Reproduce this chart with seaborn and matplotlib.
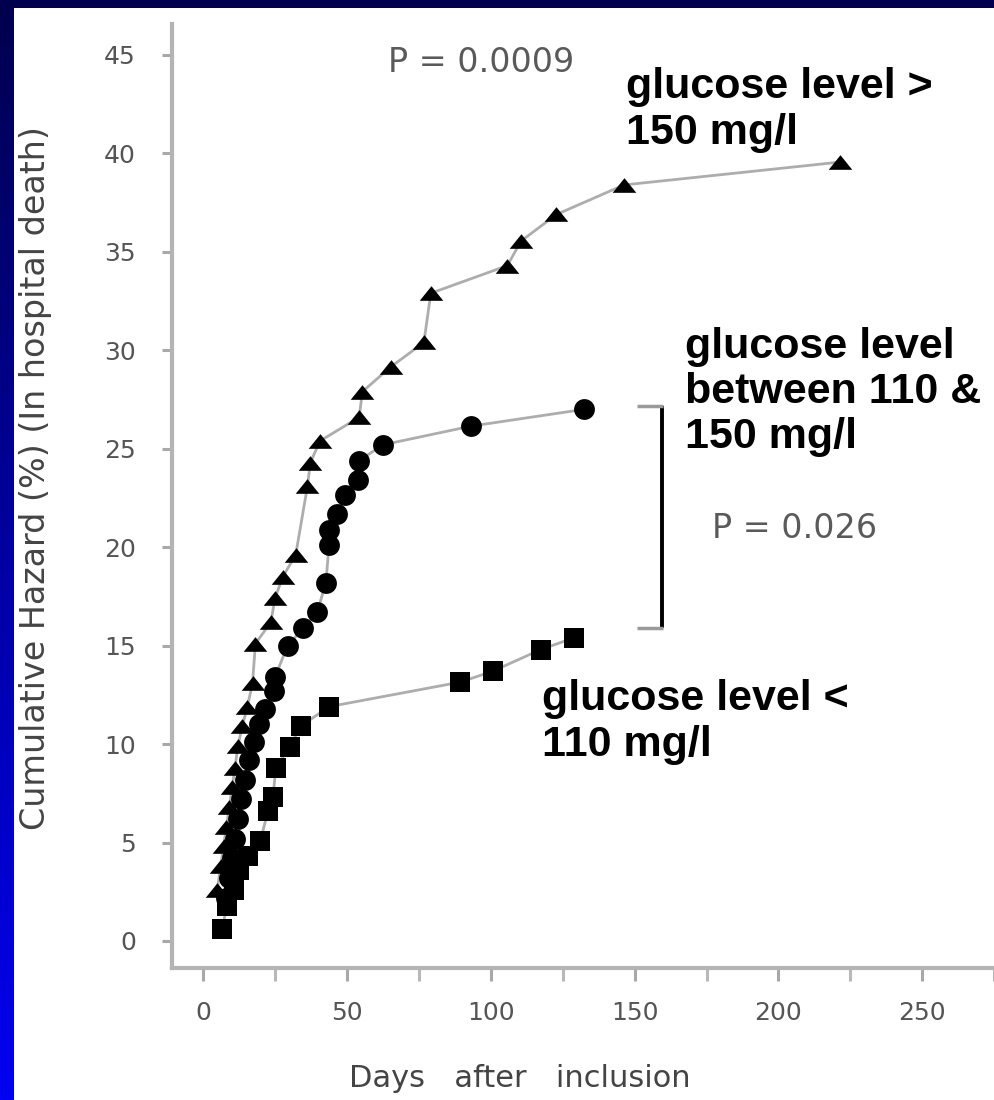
import numpy as np
import pandas as pd
import matplotlib
matplotlib.use("Agg")
import matplotlib.pyplot as plt
from matplotlib.lines import Line2D
import seaborn as sns

# ---------------- data ----------------
hi_days = [4.8, 6.0, 7.0, 8.0, 9.0, 10.0, 11.0, 12.0, 13.5, 15.3, 17.1, 18.1, 23.5, 24.9,
           27.6, 32.1, 36.2, 37.2, 40.6, 54.2, 55.3, 65.1, 76.7, 79.1, 105.7, 110.5,
           122.8, 146.3, 221.3]
hi_haz = [2.6, 3.8, 4.8, 5.8, 6.8, 7.8, 8.8, 9.9, 10.9, 11.9, 13.1, 15.1, 16.2, 17.4,
          18.5, 19.6, 23.1, 24.3, 25.4, 26.6, 27.9, 29.15, 30.4, 32.9, 34.3, 35.55,
          36.9, 38.4, 39.56]

mid_days = [8.0, 9.0, 10.0, 11.0, 12.0, 13.0, 14.5, 16.0, 17.5, 19.5, 21.5, 24.6, 24.9,
            29.3, 34.8, 39.6, 42.6, 43.7, 43.7, 46.4, 49.1, 53.9, 54.2, 62.4, 93.1, 132.3]
mid_haz = [2.2, 3.2, 4.2, 5.2, 6.2, 7.2, 8.2, 9.2, 10.1, 11.0, 11.8, 12.7, 13.4,
           15.0, 15.9, 16.7, 18.2, 20.1, 20.9, 21.7, 22.65, 23.4, 24.4, 25.2, 26.15, 27.0]

low_days = [6.5, 8.2, 10.6, 12.3, 15.5, 19.8, 22.5, 24.2, 25.2, 30.0, 33.8, 43.7,
            89.4, 100.6, 117.3, 128.9]
low_haz = [0.6, 1.8, 2.6, 3.6, 4.3, 5.1, 6.6, 7.3, 8.8, 9.85, 10.9, 11.9,
           13.15, 13.7, 14.8, 15.4]

y_ticks = [0, 5, 10, 15, 20, 25, 30, 35, 40, 45]
x_ticks = [0, 50, 100, 150, 200, 250]
x_minor = [25, 75, 125, 175, 225, 275]

x_label = "Days   after   inclusion"
y_label = "Cumulative Hazard (%) (In hospital death)"
p_top = "P = 0.0009"
p_mid = "P = 0.026"
lab_hi = "glucose level >\n150 mg/l"
lab_mid = "glucose level\nbetween 110 &\n150 mg/l"
lab_low = "glucose level <\n110 mg/l"

# ---------------- figure ----------------
sns.set_style("ticks")
plt.rcParams["font.family"] = ["DejaVu Sans"]

W, H = 995, 1100
fig = plt.figure(figsize=(W / 100, H / 100), dpi=100)
fig.patch.set_facecolor("white")

def fx(px):
    return px / W

def fy(py):
    return 1 - py / H

# blue slide frame (left gradient strip and top band)
grad = np.linspace(0, 1, 256).reshape(-1, 1)
cmap = matplotlib.colors.LinearSegmentedColormap.from_list("bl", ["#00004e", "#0000f2"])
axl = fig.add_axes([0, 0, fx(14), 1])
axl.imshow(grad, aspect="auto", cmap=cmap, extent=[0, 1, 1, 0])
axl.set_axis_off()
axt = fig.add_axes([0, fy(8), 1, 8 / H])
axt.set_facecolor("#00004e")
axt.set_xticks([]); axt.set_yticks([])
for s in axt.spines.values():
    s.set_visible(False)

L, R, T, B = 172, 994, 24, 968
ax = fig.add_axes([fx(L), fy(B), (R - L) / W, (B - T) / H])
ax.set_facecolor("white")

line_col = "#adadad"
tri = [(-1, -0.62), (1, -0.62), (0, 0.62)]
series = [
    (hi_days, hi_haz, tri, 17),
    (mid_days, mid_haz, "o", 15),
    (low_days, low_haz, "s", 14.5),
]
for xd, yd, mk, ms in series:
    df = pd.DataFrame({"days": xd, "haz": yd})
    sns.lineplot(data=df, x="days", y="haz", ax=ax, estimator=None, sort=False,
                 color=line_col, lw=2.0, marker=mk, markersize=ms,
                 markerfacecolor="black", markeredgecolor="black", markeredgewidth=0)

# axes scales: 0 -> px 941, 45 -> px 55 ; 0 -> px 204, 250 -> px 937
ppu_y = (941 - 55) / 45.0
ppu_x = (937 - 204) / 250.0
ax.set_ylim((941 - B) / ppu_y, (941 - T) / ppu_y)
ax.set_xlim((L - 204) / ppu_x, (R - 204) / ppu_x)

ax.set_yticks(y_ticks)
ax.set_xticks(x_ticks)
ax.set_xticks(x_minor, minor=True)
ax.set_yticklabels([str(v) for v in y_ticks])
ax.set_xticklabels([str(v) for v in x_ticks])

spine_col = "#b4b4b4"
for side in ["top", "right"]:
    ax.spines[side].set_visible(False)
for side in ["left", "bottom"]:
    ax.spines[side].set_color(spine_col)
    ax.spines[side].set_linewidth(3.0)

ax.tick_params(axis="y", which="major", direction="out", length=7, width=2.2,
               color="#a8a8a8", labelsize=18, labelcolor="#555555", pad=19)
ax.tick_params(axis="x", which="major", direction="out", length=9, width=2.2,
               color="#a8a8a8", labelsize=18, labelcolor="#555555", pad=15)
ax.tick_params(axis="x", which="minor", direction="out", length=9, width=2.2,
               color="#b8b8b8")

ax.set_xlabel(x_label, fontsize=22, color="#444444", ha="center", va="top")
ax.xaxis.set_label_coords((520 - L) / (R - L), (B - 1064) / (B - T))
ax.set_ylabel(y_label, fontsize=24, color="#444444", ha="center", va="center")
ax.yaxis.set_label_coords((36 - L) / (R - L), (B - 478) / (B - T))

# annotations
bold = dict(family=["Liberation Sans", "DejaVu Sans"], fontweight="bold",
            fontsize=31, color="black", linespacing=1.17)
fig.text(fx(626), fy(110), lab_hi, ha="left", va="center", **bold)
fig.text(fx(685), fy(392), lab_mid, ha="left", va="center", **bold)
fig.text(fx(542), fy(722), lab_low, ha="left", va="center", **bold)

ptxt = dict(fontsize=24, color="#5a5a5a", family=["DejaVu Sans"])
fig.text(fx(388), fy(62), p_top, ha="left", va="center", **ptxt)
fig.text(fx(712), fy(528), p_mid, ha="left", va="center", **ptxt)

# bracket joining the two lower curves
fig.add_artist(Line2D([fx(662), fx(662)], [fy(406), fy(628)], color="black", lw=2.8,
                      solid_capstyle="butt"))
for yy in (406, 628):
    fig.add_artist(Line2D([fx(637), fx(663)], [fy(yy), fy(yy)], color="#9a9a9a", lw=2.5,
                          solid_capstyle="butt"))

fig.savefig("out.png", dpi=100, facecolor="white")
